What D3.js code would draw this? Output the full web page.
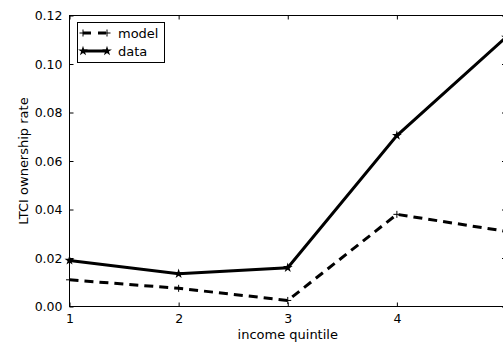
<!DOCTYPE html>
<html>
<head>
<meta charset="utf-8">
<script src="https://cdn.jsdelivr.net/npm/d3@7"></script>
<style>
  body { margin: 0; background: #fff; }
  svg { display: block; font-family: "DejaVu Sans", sans-serif; }
</style>
</head>
<body>
<svg width="503" height="347"></svg>
<script>
// chart values
const quintiles = [1, 2, 3, 4, 5];
const modelRate = [0.011, 0.0075, 0.0025, 0.038, 0.031];
const dataRate = [0.019, 0.0135, 0.016, 0.0705, 0.111];
const xTicks = [1, 2, 3, 4, 5];
const xLabels = ["1", "2", "3", "4", ""]; // "5" falls outside the cropped picture
const yTicks = [0, 0.02, 0.04, 0.06, 0.08, 0.10, 0.12];

// plot box (the right edge sits just past the window, as in the original)
const plotLeft = 69.5, plotRight = 506, plotTop = 15.5, plotBottom = 306.5;

const svg = d3.select("svg");

const x = d3.scaleLinear().domain([1, 5]).range([plotLeft, plotRight]);
const y = d3.scaleLinear().domain([0, 0.12]).range([plotBottom, plotTop]);

// ticks pointing inward on all four sides
const gx = svg.append("g").attr("transform", `translate(0,${plotBottom})`)
  .call(d3.axisBottom(x).tickValues(xTicks).tickFormat((d, i) => xLabels[i])
    .tickSizeInner(-4).tickSizeOuter(0).tickPadding(8));
const gxTop = svg.append("g").attr("transform", `translate(0,${plotTop})`)
  .call(d3.axisTop(x).tickValues(xTicks).tickFormat("").tickSizeInner(-4).tickSizeOuter(0));
const gy = svg.append("g").attr("transform", `translate(${plotLeft},0)`)
  .call(d3.axisLeft(y).tickValues(yTicks).tickFormat(d3.format(".2f")).tickSizeInner(-4).tickSizeOuter(0).tickPadding(7));
const gyRight = svg.append("g").attr("transform", `translate(${plotRight},0)`)
  .call(d3.axisRight(y).tickValues(yTicks).tickFormat("").tickSizeInner(-4).tickSizeOuter(0));

[gx, gxTop, gy, gyRight].forEach(g => {
  g.select(".domain").remove();
  g.selectAll("line").attr("stroke", "#000");
  g.selectAll("text").attr("fill", "#000").style("font-size", "12.5px").style("font-family", "DejaVu Sans");
});

// frame
svg.append("rect")
  .attr("x", plotLeft).attr("y", plotTop)
  .attr("width", plotRight - plotLeft).attr("height", plotBottom - plotTop)
  .attr("fill", "none").attr("stroke", "#000").attr("stroke-width", 1);

// axis labels
svg.append("text")
  .attr("x", (plotLeft + plotRight) / 2).attr("y", 339)
  .attr("text-anchor", "middle").style("font-size", "13px")
  .text("income quintile");
svg.append("text")
  .attr("transform", `translate(28,${(plotTop + plotBottom) / 2}) rotate(-90)`)
  .attr("text-anchor", "middle").style("font-size", "13px")
  .text("LTCI ownership rate");

const line = d3.line().x((d, i) => x(quintiles[i])).y(d => y(d));
const star = d3.symbol().type(d3.symbolStar).size(30);
const plus = "M-3.5,0H3.5M0,-3.5V3.5";

const plot = svg.append("g");

// model (dashed, plus markers)
plot.append("path").datum(modelRate)
  .attr("d", line).attr("fill", "none").attr("stroke", "#000")
  .attr("stroke-width", 3).attr("stroke-dasharray", "9,6");
plot.selectAll(".plus").data(modelRate).enter().append("path")
  .attr("class", "plus")
  .attr("transform", (d, i) => `translate(${x(quintiles[i])},${y(d)})`)
  .attr("d", plus).attr("stroke", "#000").attr("stroke-width", 1);

// data (solid, star markers)
plot.append("path").datum(dataRate)
  .attr("d", line).attr("fill", "none").attr("stroke", "#000")
  .attr("stroke-width", 3);
plot.selectAll(".star").data(dataRate).enter().append("path")
  .attr("class", "star")
  .attr("transform", (d, i) => `translate(${x(quintiles[i])},${y(d)})`)
  .attr("d", star).attr("fill", "#000");

// legend
const legend = svg.append("g");
legend.append("rect")
  .attr("x", 77.5).attr("y", 22.5).attr("width", 87).attr("height", 40)
  .attr("fill", "#fff").attr("stroke", "#000").attr("stroke-width", 1);

const ly1 = 33, ly2 = 51;
legend.append("line").attr("x1", 83).attr("x2", 107).attr("y1", ly1).attr("y2", ly1)
  .attr("stroke", "#000").attr("stroke-width", 3).attr("stroke-dasharray", "8,7");
[83, 107].forEach(px => {
  legend.append("path").attr("transform", `translate(${px},${ly1})`)
    .attr("d", plus).attr("stroke", "#000").attr("stroke-width", 1);
});
legend.append("text").attr("x", 118).attr("y", ly1 + 4.5).style("font-size", "13px").text("model");

legend.append("line").attr("x1", 83).attr("x2", 107).attr("y1", ly2).attr("y2", ly2)
  .attr("stroke", "#000").attr("stroke-width", 3);
[83, 107].forEach(px => {
  legend.append("path").attr("transform", `translate(${px},${ly2})`)
    .attr("d", star).attr("fill", "#000");
});
legend.append("text").attr("x", 118).attr("y", ly2 + 4.5).style("font-size", "13px").text("data");
</script>
</body>
</html>
